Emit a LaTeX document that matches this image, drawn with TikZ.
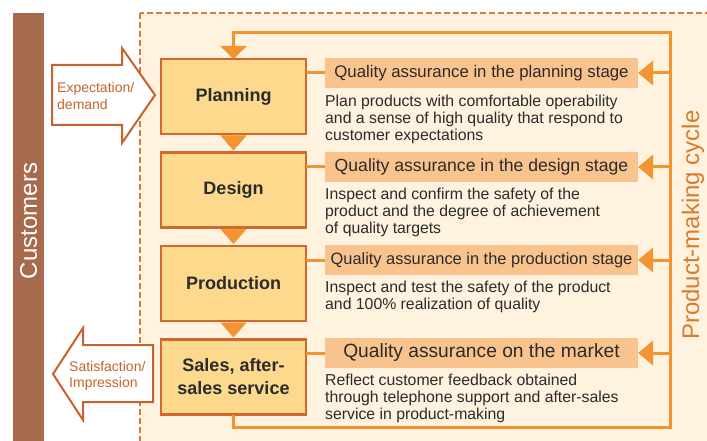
\documentclass[tikz,border=0pt]{standalone}
\usepackage{fontspec}
\setmainfont{Liberation Sans}
\usetikzlibrary{arrows.meta}
\definecolor{custbrown}{HTML}{A86A4C}
\definecolor{frameorange}{HTML}{D97B3A}
\definecolor{cream}{HTML}{FFF3DF}
\definecolor{boxfill}{HTML}{FCD98D}
\definecolor{boxline}{HTML}{D0692A}
\definecolor{cycleorange}{HTML}{F29432}
\definecolor{hdrfill}{HTML}{F9C38D}
\definecolor{arrowline}{HTML}{C8622C}
\definecolor{txtdark}{HTML}{2B2B2B}
\definecolor{cycletext}{HTML}{DC7A2C}
\begin{document}
\begin{tikzpicture}[x=1pt,y=-1pt]
				\tikzstyle{Stage} = [rectangle, draw=boxline, line width=2.5pt, fill=boxfill, minimum width=145pt, minimum height=75pt, outer sep=0pt, align=center, text=txtdark, font=\fontsize{18}{23}\selectfont\bfseries]
				\tikzstyle{Header} = [rectangle, fill=hdrfill, minimum width=313pt, minimum height=30pt, inner sep=0pt, outer sep=0pt, text=txtdark]
				\tikzstyle{Desc} = [anchor=north west, inner sep=0pt, align=left, text=txtdark, font=\fontsize{15.8}{16.8}\selectfont]
				\tikzstyle{Note} = [anchor=west, inner sep=0pt, align=left, text=arrowline, font=\fontsize{14}{16.5}\selectfont]
				\tikzstyle{Block} = [draw=arrowline, line width=2pt, fill=white, line join=miter]
				\tikzstyle{Cycle} = [draw=cycleorange, line width=3pt]
				\tikzstyle{Flow} = [draw=cycleorange, fill=cycleorange, line width=0.5pt, shorten >=2pt, -{Triangle[width=26pt,length=15pt]}]
				\useasboundingbox (0,0) rectangle (707,441);
				\clip (0,0) rectangle (707,441);
				% customers and frame
				\fill[custbrown] (13,13) rectangle (44,441);
				\node (cust) at (28.5,221) [rotate=90, text=white, font=\fontsize{24}{24}\selectfont] {Customers};
				\draw[draw=frameorange, fill=cream, line width=2pt, dash pattern=on 6pt off 3pt] (140,13) rectangle (730,460);
				\node (cycle) at (693,225) [rotate=90, text=cycletext, font=\fontsize{24}{24}\selectfont] {Product-making cycle};
				% stages
				\node (plan) at (233.5,96.5) [Stage] {Planning};
				\node (design) at (233.5,190) [Stage] {Design};
				\node (prod) at (233.5,283.5) [Stage] {Production};
				\node (sales) at (233.5,377) [Stage] {Sales, after-\\sales service};
				\draw[Flow] (plan.south) -- (design.north);
				\draw[Flow] (design.south) -- (prod.north);
				\draw[Flow] (prod.south) -- (sales.north);
				% quality assurance
				\node (qplan) at (481.5,73) [Header, font=\fontsize{16.8}{16.8}\selectfont] {Quality assurance in the planning stage};
				\node (qdesign) at (481.5,167) [Header, font=\fontsize{17.6}{17.6}\selectfont] {Quality assurance in the design stage};
				\node (qprod) at (481.5,260) [Header, font=\fontsize{16.4}{16.4}\selectfont] {Quality assurance in the production stage};
				\node (qmarket) at (481.5,353) [Header, font=\fontsize{19.2}{19.2}\selectfont] {Quality assurance on the market};
				\node (dplan) at (325,95) [Desc] {Plan products with comfortable operability\\and a sense of high quality that respond to\\customer expectations};
				\node (ddesign) at (325,188) [Desc] {Inspect and confirm the safety of the\\product and the degree of achievement\\of quality targets};
				\node (dprod) at (325,281) [Desc] {Inspect and test the safety of the product\\and 100\% realization of quality};
				\node (dmarket) at (325,374) [Desc] {Reflect customer feedback obtained\\through telephone support and after-sales\\service in product-making};
				\draw[Cycle] (qplan.west) -- (plan.east |- qplan.west);
				\draw[Cycle] (qdesign.west) -- (design.east |- qdesign.west);
				\draw[Cycle] (qprod.west) -- (prod.east |- qprod.west);
				\draw[Cycle] (qmarket.west) -- (sales.east |- qmarket.west);
				% cycle loop
				\coordinate (rtop) at (670,33);
				\coordinate (rbot) at (670,427);
				\draw[Cycle, -{Triangle[width=26pt,length=13pt]}] (sales.south) |- (rbot) -- (rtop) -| (plan.north);
				\draw[Cycle, -{Triangle[width=24pt,length=15pt]}] (rtop |- qplan.east) -- (qplan.east);
				\draw[Cycle, -{Triangle[width=24pt,length=15pt]}] (rtop |- qdesign.east) -- (qdesign.east);
				\draw[Cycle, -{Triangle[width=24pt,length=15pt]}] (rtop |- qprod.east) -- (qprod.east);
				\draw[Cycle, -{Triangle[width=24pt,length=15pt]}] (rtop |- qmarket.east) -- (qmarket.east);
				% customer arrows
				\draw[Block] (52,65) -- (122,65) -- (122,48) -- (155,95) -- (122,143) -- (122,125) -- (52,125) -- cycle;
				\node (expect) at (57,96) [Note] {Expectation/\\demand};
				\draw[Block] (153,345) -- (83,345) -- (83,328) -- (53,374) -- (83,420) -- (83,402) -- (153,402) -- cycle;
				\node (satis) at (69,376) [Note] {Satisfaction/\\Impression};
			\end{tikzpicture}
\end{document}
